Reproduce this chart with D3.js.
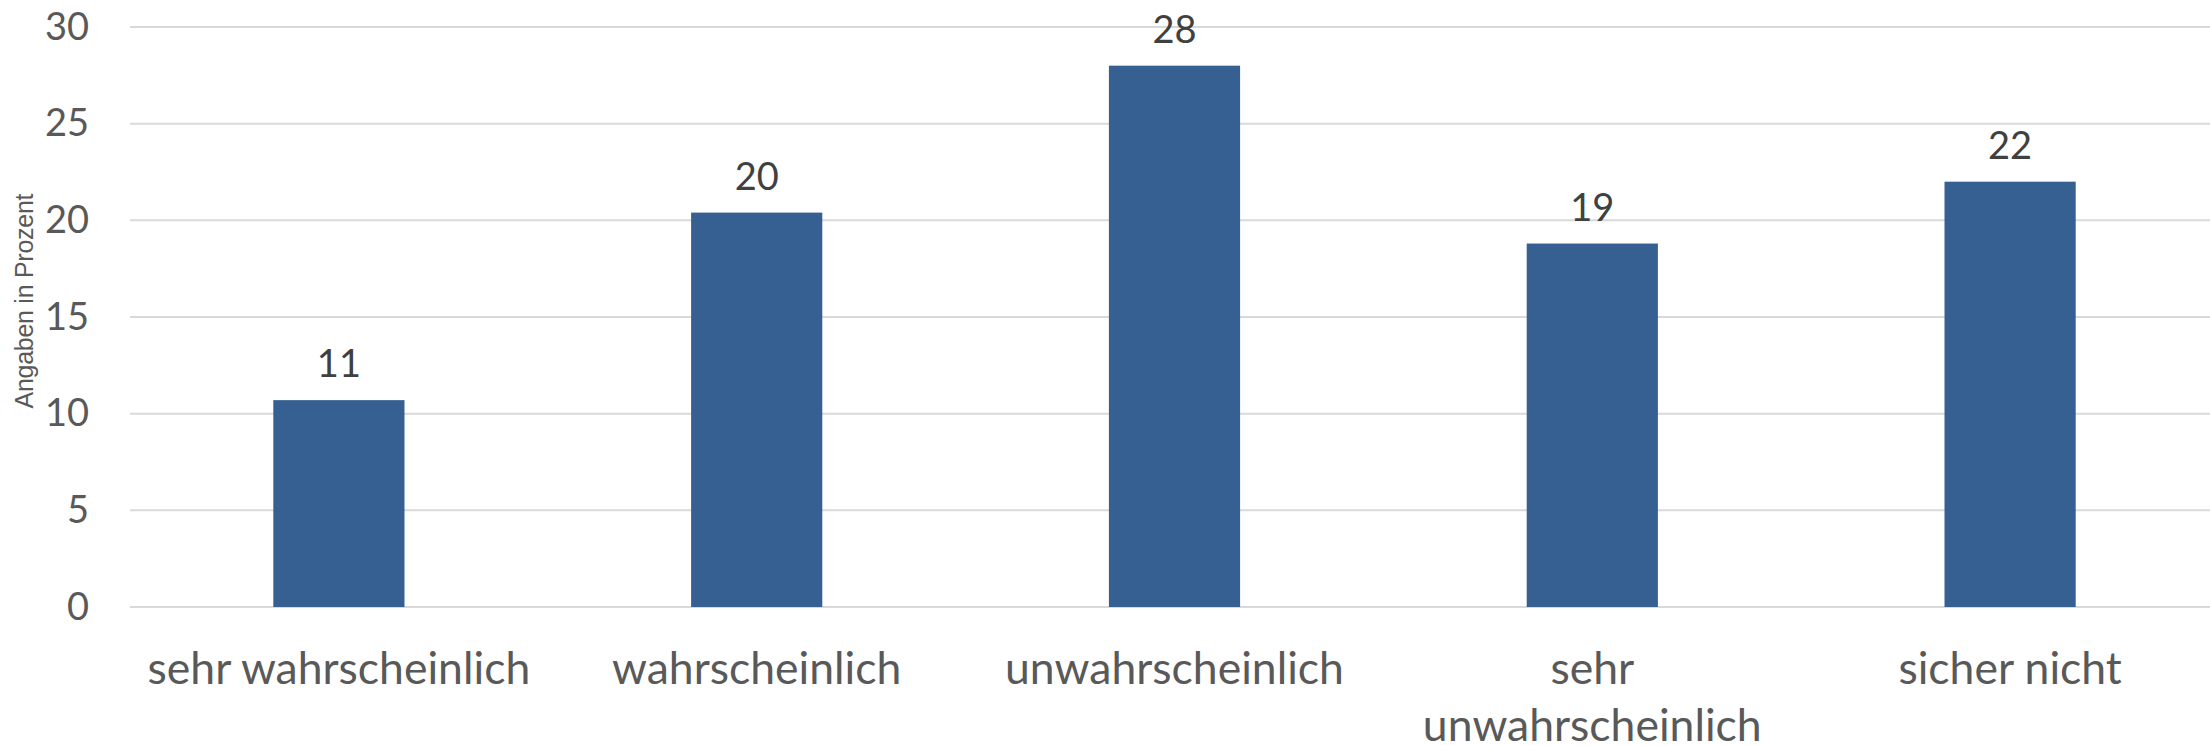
<!DOCTYPE html>
<html>
<head>
<meta charset="utf-8">
<script src="https://cdn.jsdelivr.net/npm/d3@7"></script>
<style>
  body { margin: 0; background: #fff; }
  svg { display: block; }
</style>
</head>
<body>
<svg id="chart"></svg>
<script>
const categories = ["sehr wahrscheinlich", "wahrscheinlich", "unwahrscheinlich", "sehr unwahrscheinlich", "sicher nicht"];
const labelLines = [["sehr wahrscheinlich"], ["wahrscheinlich"], ["unwahrscheinlich"], ["sehr", "unwahrscheinlich"], ["sicher nicht"]];
const values = [10.7, 20.4, 28.0, 18.8, 22.0];
const valueLabels = ["11", "20", "28", "19", "22"];
const yTicks = [0, 5, 10, 15, 20, 25, 30];
const yTitle = "Angaben in Prozent";

const width = 2210, height = 746;
const margin = { top: 27, right: -9, bottom: 139, left: 130 };

const svg = d3.select("#chart").attr("width", width).attr("height", height);

const x = d3.scaleBand().domain(categories).range([margin.left, width - margin.right]).paddingInner(0.686).paddingOuter(0.343);
const y = d3.scaleLinear().domain([0, 30]).range([height - margin.bottom, margin.top]);

// gridlines
svg.append("g").selectAll("line").data(yTicks).enter().append("line")
    .attr("x1", margin.left).attr("x2", width - margin.right)
    .attr("y1", d => y(d)).attr("y2", d => y(d))
    .attr("stroke", "#d9d9d9").attr("stroke-width", 2);

// y axis labels
const yAxis = svg.append("g").attr("transform", `translate(${margin.left},0)`)
    .call(d3.axisLeft(y).tickValues(yTicks).tickSize(0).tickPadding(41));
yAxis.select(".domain").remove();
yAxis.selectAll("text").attr("font-family", "Lato, 'Open Sans', sans-serif").attr("font-size", 38).attr("fill", "#595959");

// bars
svg.selectAll(".bar").data(values).enter().append("rect")
    .attr("x", (d, i) => x(categories[i])).attr("width", x.bandwidth())
    .attr("y", d => y(d)).attr("height", d => y(0) - y(d))
    .attr("fill", "#366092");

// value labels
svg.selectAll(".val").data(values).enter().append("text")
    .attr("x", (d, i) => x(categories[i]) + x.bandwidth() / 2)
    .attr("y", d => y(d) - 23)
    .attr("text-anchor", "middle")
    .attr("font-family", "Lato, 'Open Sans', sans-serif").attr("font-size", 38).attr("fill", "#404040")
    .text((d, i) => valueLabels[i]);

// x labels
const xl = svg.selectAll(".xl").data(categories).enter().append("text")
    .attr("text-anchor", "middle")
    .attr("font-family", "Lato, 'Open Sans', sans-serif").attr("font-size", 44.5).attr("fill", "#595959");
xl.each(function(d, i) {
    const cx = x(d) + x.bandwidth() / 2;
    d3.select(this).selectAll("tspan").data(labelLines[i]).enter().append("tspan")
        .attr("x", cx).attr("y", (t, j) => 684 + j * 57).text(t => t);
});

// y title
svg.append("text")
    .attr("transform", `translate(33,${(y(0) + y(30)) / 2 - 16}) rotate(-90)`)
    .attr("text-anchor", "middle")
    .attr("font-family", "'Liberation Sans', Arial, sans-serif").attr("font-size", 25).attr("fill", "#595959")
    .attr("textLength", 215).attr("lengthAdjust", "spacing")
    .text(yTitle);
</script>
</body>
</html>
